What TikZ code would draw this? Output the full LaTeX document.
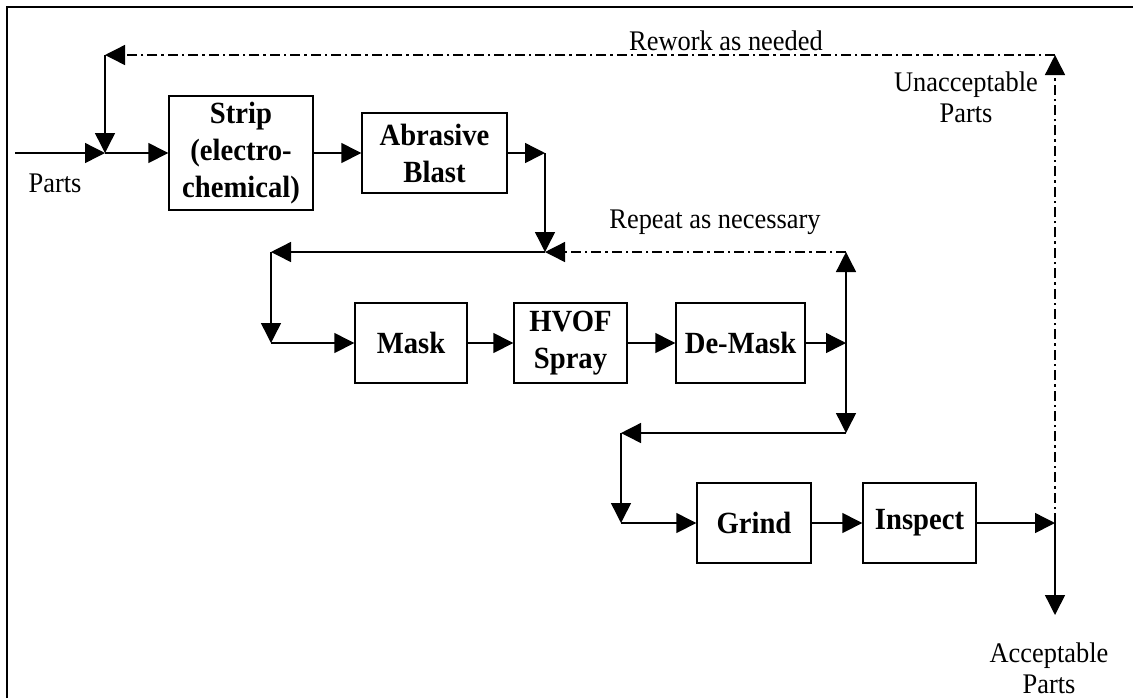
\documentclass[tikz,border=0pt]{standalone}
\usepackage{fontspec}
\setmainfont{Liberation Serif}[FakeStretch=0.93]
\usetikzlibrary{arrows.meta}

\begin{document}
\begin{tikzpicture}[x=0.5pt, y=-0.5pt, line width=0.7pt,
          box/.style={draw, inner sep=0pt, minimum height=40pt, align=center,
                      font=\fontsize{15.4}{18.5}\selectfont\bfseries},
          lbl/.style={inner sep=0pt, align=center, font=\fontsize{14.2}{15.5}\selectfont},
          loopback/.style={dash pattern=on 5pt off 2pt on 1.2pt off 2pt},
          >={Triangle[length=10pt, width=10pt]}]
        \useasboundingbox (0,0) rectangle (1133,698);
        \draw[line width=1pt] (7,698) -- (7,7) -- (1133,7);
        % process steps
        \node[box, minimum width=72pt, minimum height=57pt] (strip) at (241,153) {Strip\\(electro-\\chemical)};
        \node[box, minimum width=72.5pt] (blast)   at (434.5,153) {Abrasive\\Blast};
        \node[box, minimum width=56pt]   (mask)    at (411,343)   {Mask};
        \node[box, minimum width=56.5pt] (hvof)    at (570.5,343) {HVOF\\Spray};
        \node[box, minimum width=64.5pt] (demask)  at (740.5,343) {De-Mask};
        \node[box, minimum width=57pt]   (grind)   at (754,523)   {Grind};
        \node[box, minimum width=56.5pt] (inspect) at (919.5,523) {Inspect};
        % labels
        \node[lbl] (parts)  at (55,183)   {Parts};
        \node[lbl] (rework) at (726,41)   {Rework as needed};
        \node[lbl] (unacc)  at (966,97)   {Unacceptable\\Parts};
        \node[lbl] (repeat) at (715,222)  {Repeat as necessary};
        \node[lbl] (acc)    at (1049,668) {Acceptable\\Parts};
        % junctions and corners
        \coordinate (in)  at (15,153);   \coordinate (j1)  at (105,153);
        \coordinate (tl)  at (105,55);   \coordinate (tr)  at (1055,55);
        \coordinate (j2)  at (545,153);  \coordinate (j2b) at (545,252);
        \coordinate (c1)  at (271,252);  \coordinate (c2)  at (271,343);
        \coordinate (j3)  at (846,343);  \coordinate (rc)  at (846,252);
        \coordinate (j3b) at (846,433);  \coordinate (c3)  at (621,433);
        \coordinate (c4)  at (621,523);  \coordinate (j4)  at (1055,523);
        \coordinate (out) at (1055,615);
        % main flow
        \draw[->] (in)--(j1); \draw[->] (j1)--(strip);
        \draw[->] (strip)--(blast); \draw[->] (blast)--(j2);
        \draw[->] (j2)--(j2b); \draw[->] (j2b)--(c1);
        \draw[->] (c1)--(c2); \draw[->] (c2)--(mask);
        \draw[->] (mask)--(hvof); \draw[->] (hvof)--(demask);
        \draw[->] (demask)--(j3); \draw[->] (j3)--(rc);
        \draw[->] (j3)--(j3b); \draw[->] (j3b)--(c3);
        \draw[->] (c3)--(c4); \draw[->] (c4)--(grind);
        \draw[->] (grind)--(inspect); \draw[->] (inspect)--(j4);
        \draw[->] (j4)--(out);
        % loops back
        \draw[->, loopback] (rc)--(j2b);
        \draw[->, loopback] (j4)--(tr);
        \draw[->, loopback] (tr)--(tl); \draw[->] (tl)--(j1);
      \end{tikzpicture}
\end{document}
